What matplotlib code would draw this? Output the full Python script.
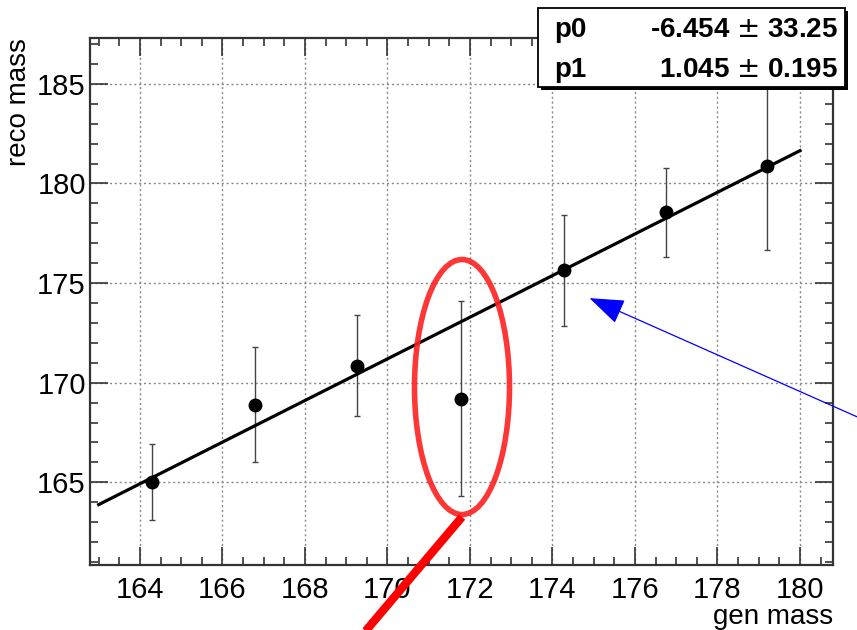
import numpy as np
import matplotlib

matplotlib.use("Agg")
import matplotlib.pyplot as plt
from matplotlib.patches import Ellipse, Rectangle, FancyArrowPatch
from matplotlib.lines import Line2D
from matplotlib.ticker import MultipleLocator

plt.rcParams["font.family"] = ["Liberation Sans", "DejaVu Sans"]

# ── data ─────────────────────────────────────────────────────────────────
gen_mass = [164.3, 166.78, 169.27, 171.78, 174.27, 176.75, 179.2]
reco_mass = [165.0, 168.9, 170.86, 169.2, 175.64, 178.55, 180.87]
reco_err = [1.9, 2.9, 2.55, 4.9, 2.8, 2.25, 4.2]

p0, p0_err = -6.454, 33.25
p1, p1_err = 1.045, 0.195
fit_range = [163.0, 180.0]

W, H = 857, 630


def fx(px):
    return px / W


def fy(py):
    return 1 - py / H


fig = plt.figure(figsize=(W / 100, H / 100), dpi=100)
ax = fig.add_axes([fx(90), fy(565), fx(833) - fx(90), fy(38) - fy(565)])

ax.errorbar(gen_mass, reco_mass, yerr=reco_err, fmt="none", ecolor="#444444",
            elinewidth=1.0, capsize=2.5, capthick=1.0, zorder=3)
xs = np.array(fit_range)
ax.plot(xs, p0 + p1 * xs, color="black", lw=2.3, zorder=4)
ax.plot(gen_mass, reco_mass, "o", color="black", ms=9, zorder=5)

ax.set_xlim(162.79, 180.8)
ax.set_ylim(160.85, 187.3)
ax.xaxis.set_major_locator(MultipleLocator(2))
ax.xaxis.set_minor_locator(MultipleLocator(0.5))
ax.yaxis.set_major_locator(MultipleLocator(5))
ax.yaxis.set_minor_locator(MultipleLocator(1))
ax.tick_params(which="both", direction="in", top=True, right=True, width=1.2, color="#333333")
ax.tick_params(which="major", length=13, labelsize=21)
ax.tick_params(which="minor", length=6)
ax.tick_params(axis="x", pad=8)
ax.tick_params(axis="y", pad=3)
ax.grid(True, which="major", ls=(0, (1.5, 2)), color="#888888", lw=1.0)
for s in ax.spines.values():
    s.set_linewidth(1.6)
    s.set_color("#333333")

ax.set_xlabel("gen mass", fontsize=20, loc="right", labelpad=0)
ax.set_ylabel("reco mass", fontsize=20, loc="top", labelpad=4)

# ── stats box ────────────────────────────────────────────────────────────
bx0, by0, bx1, by1 = 538, 8, 845, 87
fig.add_artist(Rectangle((fx(bx0 + 3), fy(by1 + 3)), fx(bx1 - bx0), fy(by0) - fy(by1),
                         transform=fig.transFigure, facecolor="black", edgecolor="none", zorder=10))
fig.add_artist(Rectangle((fx(bx0), fy(by1)), fx(bx1 - bx0), fy(by0) - fy(by1),
                         transform=fig.transFigure, facecolor="white", edgecolor="black",
                         lw=1.3, zorder=11))
rows = [("p0", p0, p0_err, "%.3f", "%.2f"), ("p1", p1, p1_err, "%.3f", "%.3f")]
for i, (name, val, err, f1, f2) in enumerate(rows):
    yy = fy(30 + 40 * i)
    fig.text(fx(554), yy, name, fontsize=20, fontweight="bold", va="center", zorder=12)
    fig.text(fx(838), yy, (f1 % val) + r" $\pm$ " + (f2 % err), fontsize=20,
             fontweight="bold", va="center", ha="right", zorder=12)

# ── annotations ──────────────────────────────────────────────────────────
fig.add_artist(Ellipse((fx(462), fy(387)), fx(95), fy(0) - fy(255),
                       transform=fig.transFigure, fill=False, edgecolor="#ff2020",
                       lw=4, alpha=0.9, zorder=12))
fig.add_artist(Line2D([fx(462), fx(358)], [fy(517), fy(640)], transform=fig.transFigure,
                      color="#ff0000", lw=6, solid_capstyle="butt", zorder=12))
fig.add_artist(FancyArrowPatch((fx(880), fy(427)), (fx(587), fy(297)),
                               transform=fig.transFigure, arrowstyle="-|>,head_length=22,head_width=8",
                               mutation_scale=1, color="#0000ff", lw=0.9, zorder=12))

fig.savefig("out.png", dpi=100)
